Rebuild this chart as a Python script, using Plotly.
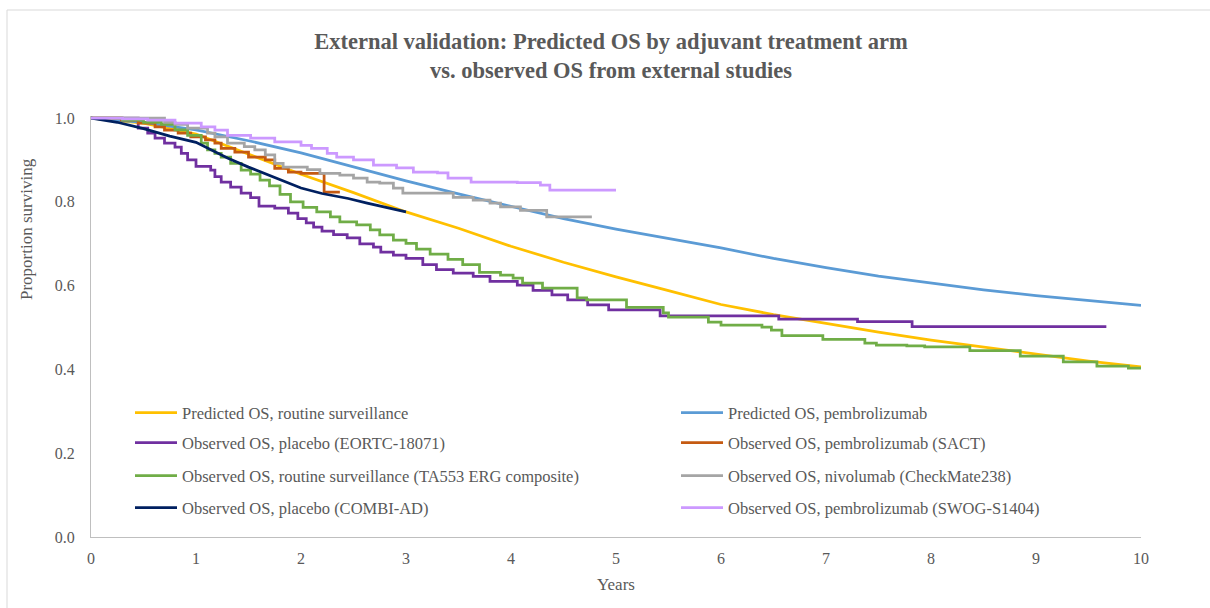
import plotly.graph_objects as go

# ---------------- data ----------------
x_ticks = [0, 1, 2, 3, 4, 5, 6, 7, 8, 9, 10]
y_ticks = [0.0, 0.2, 0.4, 0.6, 0.8, 1.0]

pred_t = [0, 0.5, 1, 1.5, 2, 2.5, 3, 3.5, 4, 4.5, 5, 5.5, 6, 6.5, 7, 7.5, 8, 8.5, 9, 9.5, 10]
pred_routine = [1.0, 0.988, 0.962, 0.914, 0.866, 0.822, 0.776, 0.737, 0.694, 0.656, 0.621, 0.588, 0.555,
                0.531, 0.510, 0.489, 0.470, 0.453, 0.436, 0.420, 0.406]
pred_pembro = [1.0, 0.990, 0.972, 0.946, 0.917, 0.884, 0.850, 0.819, 0.789, 0.760, 0.735, 0.712, 0.690,
               0.665, 0.643, 0.623, 0.606, 0.590, 0.576, 0.564, 0.553]

eortc_t = [0, 0.45, 0.54, 0.61, 0.70, 0.80, 0.86, 0.92, 1.00, 1.14, 1.18, 1.24, 1.33, 1.43, 1.52, 1.60,
           1.75, 1.88, 1.97, 2.05, 2.12, 2.20, 2.31, 2.44, 2.56, 2.69, 2.76, 2.88, 3.00, 3.16, 3.29, 3.45,
           3.64, 3.80, 4.06, 4.21, 4.39, 4.54, 4.73, 4.93, 5.42, 6.55, 7.30, 7.82, 9.67]
eortc_s = [1.0, 0.976, 0.964, 0.952, 0.940, 0.931, 0.916, 0.900, 0.885, 0.876, 0.860, 0.847, 0.835, 0.821,
           0.810, 0.790, 0.785, 0.773, 0.760, 0.750, 0.740, 0.730, 0.722, 0.714, 0.700, 0.692, 0.680, 0.673,
           0.665, 0.650, 0.638, 0.630, 0.622, 0.610, 0.601, 0.589, 0.578, 0.566, 0.554, 0.542, 0.528, 0.520,
           0.514, 0.502, 0.502]

sact_t = [0, 0.29, 0.45, 0.61, 0.70, 0.83, 0.95, 1.09, 1.18, 1.24, 1.37, 1.50, 1.66, 1.75, 1.88, 2.00,
          2.22, 2.37]
sact_s = [1.0, 0.995, 0.988, 0.979, 0.971, 0.964, 0.955, 0.948, 0.940, 0.928, 0.919, 0.907, 0.900, 0.880,
          0.871, 0.868, 0.823, 0.823]

ta553_t = [0, 0.30, 0.50, 0.67, 0.80, 0.92, 1.05, 1.11, 1.18, 1.24, 1.33, 1.43, 1.52, 1.61, 1.70, 1.80,
           1.90, 2.02, 2.15, 2.28, 2.37, 2.53, 2.66, 2.75, 2.88, 3.00, 3.10, 3.23, 3.40, 3.54, 3.70, 3.90,
           4.02, 4.11, 4.30, 4.63, 4.72, 5.10, 5.45, 5.50, 5.88, 6.00, 6.39, 6.48, 6.58, 6.97, 7.37, 7.48,
           7.77, 7.94, 8.37, 8.85, 9.26, 9.58, 9.88, 10.0]
ta553_s = [1.0, 0.995, 0.990, 0.985, 0.972, 0.959, 0.940, 0.924, 0.916, 0.907, 0.892, 0.876, 0.866, 0.852,
           0.838, 0.818, 0.800, 0.787, 0.776, 0.764, 0.752, 0.745, 0.733, 0.721, 0.709, 0.701, 0.687, 0.675,
           0.663, 0.650, 0.632, 0.625, 0.618, 0.606, 0.594, 0.571, 0.566, 0.548, 0.535, 0.525, 0.513, 0.506,
           0.501, 0.494, 0.481, 0.472, 0.463, 0.458, 0.456, 0.454, 0.445, 0.432, 0.418, 0.408, 0.403, 0.400]

cm238_t = [0, 0.70, 0.80, 0.92, 1.11, 1.18, 1.30, 1.46, 1.56, 1.66, 1.75, 1.83, 2.06, 2.18, 2.37, 2.50,
           2.63, 2.75, 2.88, 2.97, 3.45, 3.64, 3.80, 3.90, 4.09, 4.34, 4.77]
cm238_s = [1.0, 0.990, 0.985, 0.976, 0.964, 0.955, 0.940, 0.932, 0.924, 0.912, 0.892, 0.883, 0.877, 0.868,
           0.864, 0.857, 0.847, 0.845, 0.833, 0.821, 0.811, 0.804, 0.797, 0.788, 0.780, 0.764, 0.764]

combi_t = [0, 0.25, 0.5, 0.75, 1.0, 1.1, 1.3, 1.5, 1.7, 1.9, 2.0, 2.2, 2.45, 2.63, 3.0]
combi_s = [1.0, 0.990, 0.975, 0.957, 0.942, 0.930, 0.905, 0.883, 0.863, 0.843, 0.833, 0.820, 0.808, 0.797,
           0.776]

swog_t = [0, 0.30, 0.54, 0.80, 1.05, 1.18, 1.30, 1.52, 1.75, 2.00, 2.10, 2.25, 2.34, 2.50, 2.69, 2.91,
          3.07, 3.30, 3.40, 3.62, 4.06, 4.28, 4.37, 5.00]
swog_s = [1.0, 0.998, 0.995, 0.988, 0.979, 0.971, 0.959, 0.952, 0.943, 0.935, 0.928, 0.916, 0.907, 0.900,
          0.888, 0.881, 0.871, 0.869, 0.857, 0.847, 0.846, 0.840, 0.828, 0.828]

names = [
    "Predicted OS, routine surveillance",
    "Predicted OS, pembrolizumab",
    "Observed OS, placebo (EORTC-18071)",
    "Observed OS, pembrolizumab (SACT)",
    "Observed OS, routine surveillance (TA553 ERG composite)",
    "Observed OS, nivolumab (CheckMate238)",
    "Observed OS, placebo (COMBI-AD)",
    "Observed OS, pembrolizumab (SWOG-S1404)",
]

# ---------------- figure ----------------
FONT = "Liberation Serif"
GREY = "#595959"

series = [
    (pred_t, pred_routine, "#FFC000", "linear"),
    (pred_t, pred_pembro, "#5B9BD5", "linear"),
    (eortc_t, eortc_s, "#7030A0", "hv"),
    (sact_t, sact_s, "#C55A11", "hv"),
    (ta553_t, ta553_s, "#70AD47", "hv"),
    (cm238_t, cm238_s, "#A5A5A5", "hv"),
    (combi_t, combi_s, "#002060", "linear"),
    (swog_t, swog_s, "#CC99FF", "hv"),
]

L, R, T, B = 91, 69, 116, 71
W, H = 1210, 608
PW = W - L - R
ph = H - T - B

def py(pix):
    return (H - B - pix) / ph

def px(pix):
    return (pix - L) / PW

fig = go.Figure()
legend_layout = {}
row_y = [413, 443, 476, 508]
col_x = [130, 676]
for i, ((t, s, c, shp), nm) in enumerate(zip(series, names)):
    lid = "legend" if i == 0 else f"legend{i + 1}"
    fig.add_trace(go.Scatter(x=t, y=s, name=nm, mode="lines",
                             line=dict(color=c, width=2.75, shape=shp), legend=lid))
    legend_layout[lid] = dict(x=px(col_x[i % 2]), y=py(row_y[i // 2]), xanchor="left", yanchor="middle",
                              orientation="h", itemwidth=42, bgcolor="rgba(0,0,0,0)",
                              font=dict(family=FONT, size=16.5, color=GREY))

fig.update_layout(
    width=W, height=H,
    margin=dict(l=L, r=R, t=T, b=B, autoexpand=False),
    paper_bgcolor="white", plot_bgcolor="white",
    showlegend=True,
    title=dict(text="<b>External validation: Predicted OS by adjuvant treatment arm<br>vs. observed OS from external studies</b>",
               x=611 / W, xanchor="center", xref="container",
               y=1 - 49 / H, yanchor="top", yref="container",
               font=dict(family=FONT, size=22.5, color=GREY)),
    xaxis=dict(range=[0, 10], tickvals=x_ticks, ticktext=[str(v) for v in x_ticks],
               showgrid=False, zeroline=False, showline=True, linecolor="#BFBFBF", linewidth=1,
               ticks="", ticklabelstandoff=7,
               tickfont=dict(family=FONT, size=16, color=GREY)),
    yaxis=dict(range=[0, 1.005], tickvals=y_ticks, ticktext=[f"{v:.1f}" for v in y_ticks],
               showgrid=False, zeroline=False, showline=True, linecolor="#BFBFBF", linewidth=1,
               ticks="", ticklabelstandoff=12,
               tickfont=dict(family=FONT, size=16, color=GREY)),
    shapes=[dict(type="rect", xref="paper", yref="paper",
                 x0=px(7), x1=1.2, y0=-0.3, y1=py(10),
                 line=dict(color="#D9D9D9", width=1), fillcolor="rgba(0,0,0,0)", layer="below")],
    annotations=[
        dict(text="Years", xref="paper", yref="paper", x=px(616), y=py(584),
             xanchor="center", yanchor="middle", showarrow=False,
             font=dict(family=FONT, size=17, color=GREY)),
        dict(text="Proportion surviving", xref="paper", yref="paper", x=px(26), y=py(229),
             xanchor="center", yanchor="middle", showarrow=False, textangle=-90,
             font=dict(family=FONT, size=17, color=GREY)),
    ],
    **legend_layout,
)

fig.write_html("out.html", config={"displayModeBar": False},
               post_script="document.body.style.margin='0';")
